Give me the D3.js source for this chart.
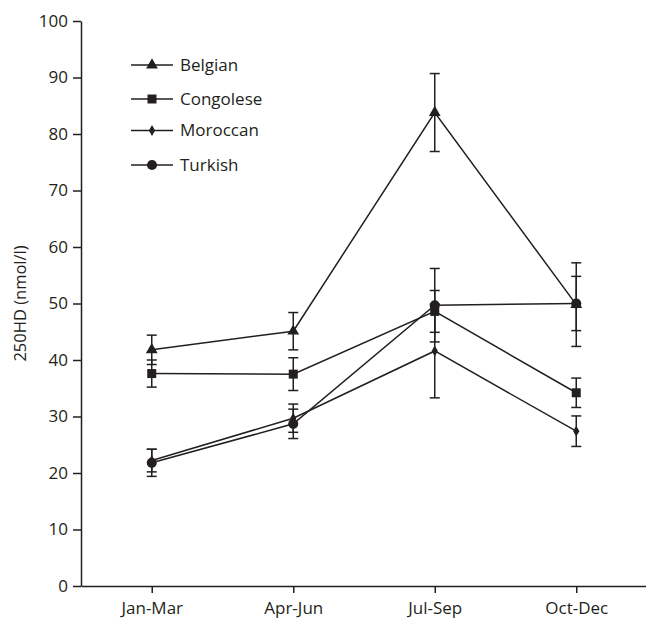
<!DOCTYPE html>
<html>
<head>
<meta charset="utf-8">
<script src="https://cdn.jsdelivr.net/npm/d3@7"></script>
<style>
    body { margin: 0; background: #fff; }
    #chart { width: 646px; height: 621px; }
    text { font-family: "Open Sans", "Noto Sans", sans-serif; fill: #231f20; }
</style>
</head>
<body>
<div id="chart"></div>
<script>
// Seasonal 25OHD values per group (mean and error bar half-width)
const categories = ["Jan-Mar", "Apr-Jun", "Jul-Sep", "Oct-Dec"];
const yTicks = [0, 10, 20, 30, 40, 50, 60, 70, 80, 90, 100];
const groupNames = ["Belgian", "Congolese", "Moroccan", "Turkish"];

const belgianMean = [41.8, 45.1, 83.8, 49.8];
const belgianErr = [2.6, 3.3, 6.9, 7.4];
const congoleseMean = [37.6, 37.5, 48.6, 34.2];
const congoleseErr = [2.4, 2.9, 3.7, 2.6];
const moroccanMean = [22.2, 29.7, 41.6, 27.4];
const moroccanErr = [2.0, 2.5, 8.3, 2.7];
const turkishMean = [21.8, 28.7, 49.7, 50.0];
const turkishErr = [2.4, 2.6, 6.5, 4.8];

class SeasonChart {

    constructor(parentElement) {
        this.parentElement = parentElement;
        this.ink = "#231f20";
        this.series = [
            { name: groupNames[0], mean: belgianMean, err: belgianErr, symbol: d3.symbolTriangle, size: 60 },
            { name: groupNames[1], mean: congoleseMean, err: congoleseErr, symbol: d3.symbolSquare, size: 81 },
            { name: groupNames[2], mean: moroccanMean, err: moroccanErr, symbol: d3.symbolDiamond, size: 34 },
            { name: groupNames[3], mean: turkishMean, err: turkishErr, symbol: d3.symbolCircle, size: 80 }
        ];
        this.initVis();
    }

    initVis() {
        let vis = this;

        vis.margin = { top: 21, right: 0, bottom: 35, left: 81 };
        vis.width = 646 - vis.margin.left - vis.margin.right;
        vis.height = 621 - vis.margin.top - vis.margin.bottom;

        vis.svg = d3.select("#" + vis.parentElement).append("svg")
            .attr("width", 646)
            .attr("height", 621)
            .append("g")
            .attr("transform", "translate(" + vis.margin.left + "," + vis.margin.top + ")");

        vis.x = d3.scalePoint()
            .domain(categories)
            .range([0, vis.width + 1])
            .padding(0.5);

        vis.y = d3.scaleLinear()
            .domain([0, 100])
            .range([vis.height, 0]);

        vis.xAxis = d3.axisBottom(vis.x).tickSize(7).tickSizeOuter(0).tickPadding(4);
        vis.yAxis = d3.axisLeft(vis.y).tickValues(yTicks).tickSize(8).tickSizeOuter(0).tickPadding(5);

        let gx = vis.svg.append("g")
            .attr("class", "x-axis axis")
            .attr("transform", "translate(0," + vis.height + ")")
            .call(vis.xAxis);

        let gy = vis.svg.append("g")
            .attr("class", "y-axis axis")
            .call(vis.yAxis);

        [gx, gy].forEach(g => {
            g.selectAll("path, line").attr("stroke", vis.ink).attr("stroke-width", 1.5);
            g.selectAll("text").style("font-size", "17px").attr("fill", vis.ink);
        });
        gx.selectAll("text").attr("dy", "1em");

        // y axis label
        vis.svg.append("text")
            .attr("class", "axis-label")
            .attr("transform", "rotate(-90)")
            .attr("x", -vis.y(50))
            .attr("y", 26 - vis.margin.left)
            .style("text-anchor", "middle")
            .style("font-size", "16.5px")
            .text("250HD (nmol/l)");

        vis.updateVis();
    }

    updateVis() {
        let vis = this;

        let line = d3.line()
            .x((d, i) => vis.x(categories[i]))
            .y(d => vis.y(d));

        let groups = vis.svg.selectAll(".series")
            .data(vis.series)
            .enter().append("g")
            .attr("class", "series");

        // connecting lines
        groups.append("path")
            .attr("d", d => line(d.mean))
            .attr("fill", "none")
            .attr("stroke", vis.ink)
            .attr("stroke-width", 1.5);

        // error bars
        groups.each(function (s) {
            let g = d3.select(this);
            let bars = g.selectAll(".err")
                .data(s.mean.map((m, i) => ({ cat: categories[i], lo: m - s.err[i], hi: m + s.err[i] })))
                .enter().append("g")
                .attr("class", "err")
                .attr("stroke", vis.ink)
                .attr("stroke-width", 1.5);

            bars.append("line")
                .attr("x1", d => vis.x(d.cat))
                .attr("x2", d => vis.x(d.cat))
                .attr("y1", d => vis.y(d.lo))
                .attr("y2", d => vis.y(d.hi));

            ["lo", "hi"].forEach(k => {
                bars.append("line")
                    .attr("x1", d => vis.x(d.cat) - 5)
                    .attr("x2", d => vis.x(d.cat) + 5)
                    .attr("y1", d => vis.y(d[k]))
                    .attr("y2", d => vis.y(d[k]));
            });
        });

        // markers
        groups.each(function (s) {
            d3.select(this).selectAll(".marker")
                .data(s.mean)
                .enter().append("path")
                .attr("class", "marker")
                .attr("d", d3.symbol().type(s.symbol).size(s.size))
                .attr("transform", (d, i) => "translate(" + vis.x(categories[i]) + "," + vis.y(d) + ")")
                .attr("fill", vis.ink);
        });

        // legend
        let legend = vis.svg.append("g")
            .attr("class", "legend")
            .attr("transform", "translate(" + (131 - vis.margin.left) + "," + (65 - vis.margin.top) + ")");

        let legendY = [0, 34, 65.5, 100];

        let items = legend.selectAll(".legend-item")
            .data(vis.series)
            .enter().append("g")
            .attr("class", "legend-item")
            .attr("transform", (d, i) => "translate(0," + legendY[i] + ")");

        items.append("line")
            .attr("x1", 0)
            .attr("x2", 42)
            .attr("stroke", vis.ink)
            .attr("stroke-width", 1.5);

        items.append("path")
            .attr("d", d => d3.symbol().type(d.symbol).size(d.size)())
            .attr("transform", "translate(21,0)")
            .attr("fill", vis.ink);

        items.append("text")
            .attr("x", 49)
            .attr("dy", "0.35em")
            .style("font-size", "17px")
            .text(d => d.name);
    }
}

new SeasonChart("chart");
</script>
</body>
</html>
